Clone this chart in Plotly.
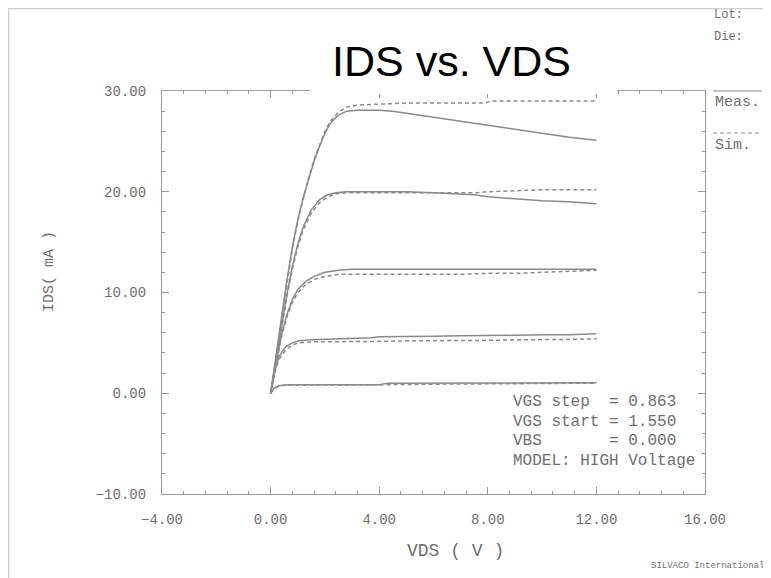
import plotly.graph_objects as go

# ---------------- data ----------------
VGS_STEP = 0.863
VGS_START = 1.550
VBS = 0.000

# curve 1 (VGS = 5.002)
V1 = [0, 0.2, 0.4, 0.6, 0.8, 1.0, 1.2, 1.4, 1.6, 1.8, 2.0, 2.2, 2.5, 2.8, 3.2, 4.0, 4.5, 5, 6, 7, 8, 9, 10, 11, 12]
I1_meas = [0, 3.8, 7.5, 11.2, 14.5, 17.2, 19.4, 21.3, 23.0, 24.5, 25.8, 26.8, 27.6, 28.0, 28.1, 28.1, 28.0, 27.8, 27.4, 27.0, 26.6, 26.2, 25.8, 25.4, 25.1]
V1s = [0, 0.2, 0.4, 0.6, 0.8, 1.0, 1.2, 1.4, 1.6, 1.8, 2.0, 2.2, 2.5, 2.8, 3.2, 4.0, 5, 6, 7, 7.9, 8.1, 9, 10, 11, 12]
I1_sim = [0, 3.7, 7.4, 11.0, 14.3, 17.1, 19.4, 21.4, 23.2, 24.7, 26.0, 27.0, 27.9, 28.4, 28.6, 28.7, 28.8, 28.8, 28.8, 28.8, 29.0, 29.0, 29.0, 29.0, 29.0]

# curve 2 (VGS = 4.139)
V2 = [0, 0.2, 0.4, 0.6, 0.8, 1.0, 1.2, 1.5, 1.8, 2.1, 2.4, 2.8, 3.2, 4, 5, 6, 7, 7.5, 8, 9, 10, 11, 12]
I2_meas = [0, 3.4, 6.8, 9.8, 12.6, 14.8, 16.5, 18.2, 19.2, 19.7, 19.9, 20.0, 20.0, 20.0, 20.0, 19.9, 19.8, 19.7, 19.5, 19.3, 19.1, 19.0, 18.8]
I2_sim = [0, 3.3, 6.6, 9.6, 12.3, 14.5, 16.2, 17.9, 18.9, 19.5, 19.8, 19.9, 19.9, 19.9, 19.9, 19.9, 19.9, 19.9, 20.0, 20.1, 20.2, 20.2, 20.2]

# curve 3 (VGS = 3.276)
V3 = [0, 0.2, 0.4, 0.6, 0.8, 1.0, 1.3, 1.6, 2.0, 2.5, 3, 4, 5, 6, 7, 8, 9, 10, 11, 12]
I3_meas = [0, 3.0, 5.8, 7.8, 9.3, 10.3, 11.1, 11.6, 12.0, 12.2, 12.3, 12.3, 12.3, 12.3, 12.3, 12.3, 12.3, 12.3, 12.3, 12.3]
I3_sim = [0, 2.9, 5.6, 7.6, 9.0, 10.0, 10.8, 11.3, 11.6, 11.8, 11.8, 11.8, 11.8, 11.8, 11.8, 11.9, 11.9, 12.0, 12.1, 12.2]

# curve 4 (VGS = 2.413)
V4 = [0, 0.15, 0.3, 0.55, 0.8, 1.04, 1.5, 2, 3, 3.7, 4, 5, 6, 7, 8, 9, 10, 11, 12]
I4_meas = [0, 2.2, 3.6, 4.6, 5.0, 5.2, 5.3, 5.35, 5.4, 5.5, 5.6, 5.6, 5.65, 5.7, 5.7, 5.75, 5.8, 5.8, 5.9]
I4_sim = [0, 2.0, 3.3, 4.3, 4.8, 5.0, 5.1, 5.1, 5.15, 5.15, 5.15, 5.2, 5.2, 5.2, 5.25, 5.3, 5.3, 5.35, 5.4]

# curve 5 (VGS = 1.550)
V5 = [0, 0.12, 0.3, 0.6, 1, 2, 4, 4.3, 6, 8, 10, 12]
I5_meas = [0, 0.5, 0.75, 0.85, 0.85, 0.85, 0.85, 1.0, 1.0, 1.0, 1.0, 1.05]
I5_sim = [0, 0.45, 0.7, 0.8, 0.8, 0.8, 0.85, 0.85, 0.9, 0.95, 1.0, 1.0]

meas_curves = [(V1, I1_meas), (V2, I2_meas), (V3, I3_meas), (V4, I4_meas), (V5, I5_meas)]
sim_curves = [(V1s, I1_sim), (V2, I2_sim), (V3, I3_sim), (V4, I4_sim), (V5, I5_sim)]

X_TICKS = [-4, 0, 4, 8, 12, 16]
Y_TICKS = [-10, 0, 10, 20, 30]

# ---------------- figure ----------------
LINE = "#8a8a8a"
TXT = "#6e6e6e"
MONO = "Liberation Mono, Courier New, monospace"

fig = go.Figure()
for vx, iy in meas_curves:
    fig.add_trace(go.Scatter(x=vx, y=iy, mode="lines", line=dict(color=LINE, width=1.5),
                             showlegend=False, hoverinfo="skip"))
for vx, iy in sim_curves:
    fig.add_trace(go.Scatter(x=vx, y=iy, mode="lines", line=dict(color=LINE, width=1.5, dash="4px,3px"),
                             showlegend=False, hoverinfo="skip"))

# page coordinates (the page body has an 8px margin)
OFF = 8
PAGE_W, PAGE_H = 771, 578
PL, PR, PT, PB = 162, 705, 91, 494          # plot box on the page
W, H = PAGE_W - OFF, PAGE_H - OFF
L, T = PL - OFF, PT - OFF
R, B = PAGE_W - PR, PAGE_H - PB
PW, PH = PR - PL, PB - PT

def px(x):
    return (x - PL) / PW

def py(y):
    return (PB - y) / PH

axis_common = dict(showgrid=False, zeroline=False, showline=True, linecolor="#9a9a9a", linewidth=1.2,
                   mirror="ticks", ticks="inside", ticklen=7, tickcolor="#9a9a9a", tickwidth=1,
                   tickfont=dict(family=MONO, size=14, color=TXT), tickformat=".2f")

fig.update_xaxes(range=[-4, 16], tickvals=X_TICKS, ticklabelstandoff=12,
                 minor=dict(dtick=0.8, ticks="inside", ticklen=3, tickcolor="#9a9a9a"),
                 **axis_common)
fig.update_yaxes(range=[-10, 30], tickvals=Y_TICKS, ticklabelstandoff=12,
                 minor=dict(dtick=2, ticks="inside", ticklen=3, tickcolor="#9a9a9a"),
                 **axis_common)

shapes = []
# white strip hiding the top frame under the title
shapes.append(dict(type="rect", xref="paper", yref="paper", x0=px(310), x1=px(617), y0=py(94), y1=py(84),
                   fillcolor="white", line=dict(width=0), layer="above"))
# legend sample lines
shapes.append(dict(type="line", xref="paper", yref="paper", x0=px(713), x1=px(762), y0=py(91), y1=py(91),
                   line=dict(color="#8a8a8a", width=1.2)))
shapes.append(dict(type="line", xref="paper", yref="paper", x0=px(713), x1=px(762), y0=py(133), y1=py(133),
                   line=dict(color="#8a8a8a", width=1.2, dash="4px,3px")))
# outer frame (top and left)
shapes.append(dict(type="line", xref="paper", yref="paper", x0=px(8.5), x1=px(771), y0=py(8.5), y1=py(8.5),
                   line=dict(color="#cccccc", width=1.5)))
shapes.append(dict(type="line", xref="paper", yref="paper", x0=px(8.5), x1=px(8.5), y0=py(8.5), y1=py(578),
                   line=dict(color="#cccccc", width=1.5)))

NB = "\u00a0"
info_lines = [
    f"VGS step{NB}{NB}= {VGS_STEP:.3f}",
    f"VGS start = {VGS_START:.3f}",
    f"VBS{NB*7}= {VBS:.3f}",
    "MODEL: HIGH Voltage",
]
info_y = [401.7, 421.7, 441.2, 461]

ann = []
for t, yy in zip(info_lines, info_y):
    ann.append(dict(text=t.replace(" ", NB), xref="paper", yref="paper", x=px(511), y=py(yy),
                    xanchor="left", yanchor="middle", showarrow=False,
                    font=dict(family=MONO, size=16, color=TXT)))

ann += [
    dict(text="IDS vs. VDS", xref="paper", yref="paper", x=px(451), y=py(61), xanchor="center", yanchor="middle",
         showarrow=False, font=dict(family="Liberation Sans, Arial, sans-serif", size=43, color="black")),
    dict(text="Lot:", xref="paper", yref="paper", x=px(712), y=py(15), xanchor="left", yanchor="middle",
         showarrow=False, font=dict(family=MONO, size=12, color=TXT)),
    dict(text="Die:", xref="paper", yref="paper", x=px(712), y=py(37), xanchor="left", yanchor="middle",
         showarrow=False, font=dict(family=MONO, size=12, color=TXT)),
    dict(text="Meas.", xref="paper", yref="paper", x=px(713), y=py(102), xanchor="left", yanchor="middle",
         showarrow=False, font=dict(family=MONO, size=15, color=TXT)),
    dict(text="Sim.", xref="paper", yref="paper", x=px(713), y=py(145), xanchor="left", yanchor="middle",
         showarrow=False, font=dict(family=MONO, size=15, color=TXT)),
    dict(text="VDS\u00a0(\u00a0V\u00a0)", xref="paper", yref="paper", x=px(455), y=py(551), xanchor="center",
         yanchor="middle", showarrow=False, font=dict(family=MONO, size=18, color=TXT)),
    dict(text="IDS(\u00a0mA\u00a0)", xref="paper", yref="paper", x=px(49), y=py(272), xanchor="center",
         yanchor="middle", textangle=-90, showarrow=False, font=dict(family=MONO, size=15, color=TXT)),
    dict(text="SILVACO\u00a0International", xref="paper", yref="paper", x=px(766), y=py(566), xanchor="right",
         yanchor="middle", showarrow=False, font=dict(family=MONO, size=9, color=TXT)),
]

fig.update_layout(width=W, height=H, margin=dict(l=L, r=R, t=T, b=B, autoexpand=False),
                  paper_bgcolor="white", plot_bgcolor="white",
                  shapes=shapes, annotations=ann, showlegend=False)

fig.write_html("out.html")
